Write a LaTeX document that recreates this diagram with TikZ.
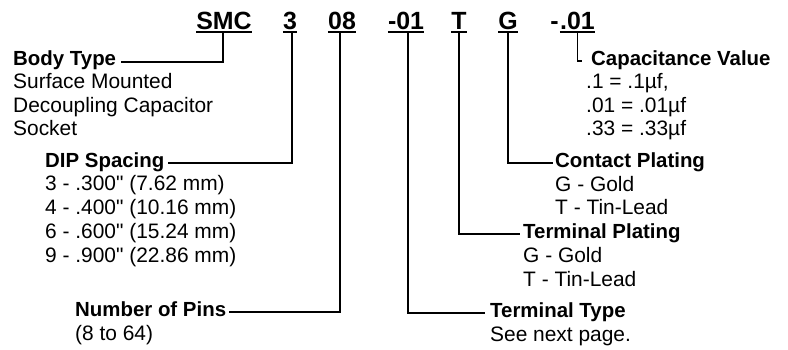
\documentclass[tikz,border=0pt]{standalone}
\usepackage{fontspec}
\setmainfont{Liberation Sans}[Ligatures=TeXOff]
\begin{document}
\begin{tikzpicture}[x=1bp,y=-1bp,
  txt/.style={anchor=base west,inner sep=0pt,font=\fontsize{21}{24}\selectfont},
  hd/.style={anchor=base west,inner sep=0pt,font=\fontsize{20.5}{24}\selectfont\bfseries},
  code/.style={anchor=base,inner sep=0pt,font=\fontsize{25}{28}\selectfont\bfseries},
  conn/.style={line width=1.4bp},
  uline/.style={line width=1.6bp}]
\useasboundingbox (0,0) rectangle (788,349);

% part-number code
\node[code] (smc) at (224,29) {SMC};
\node[code] (dip) at (290,29) {3};
\node[code] (pins) at (342,29) {08};
\node[code] (tt) at (406,29) {-01};
\node[code] (tp) at (459,29) {T};
\node[code] (cp) at (508,29) {G};
\node[code,anchor=base east] (cv) at (595,29) {.01};
\node[code,anchor=base east] (cvdash) at ([xshift=-1bp]cv.base west) {-};
\foreach \n in {smc,dip,pins,tt,tp,cp,cv}
  \draw[uline] ([yshift=-3bp]\n.base west) -- ([yshift=-3bp]\n.base east);

% Body Type
\node[hd] (bt) at (13,65) {Body Type};
\node[txt] (bt1) at (13,88) {Surface Mounted};
\node[txt] (bt2) at (13,112) {Decoupling Capacitor};
\node[txt] (bt3) at (13,135) {Socket};

% DIP Spacing
\node[hd] (dsp) at (45,167) {DIP Spacing};
\node[txt] (dsp1) at (45,190) {3 - .300" (7.62 mm)};
\node[txt] (dsp2) at (45,214) {4 - .400" (10.16 mm)};
\node[txt] (dsp3) at (45,238) {6 - .600" (15.24 mm)};
\node[txt] (dsp4) at (45,262) {9 - .900" (22.86 mm)};

% Number of Pins
\node[hd] (nop) at (75,316) {Number of Pins};
\node[txt] (nop1) at (75,340) {(8 to 64)};

% Capacitance Value
\node[hd] (cvl) at (591,65) {Capacitance Value};
\node[txt] (cvl1) at (586,88) {.1 = .1µf,};
\node[txt] (cvl2) at (586,112) {.01 = .01µf};
\node[txt] (cvl3) at (586,135) {.33 = .33µf};

% Contact Plating
\node[hd] (cpl) at (555,167) {Contact Plating};
\node[txt] (cpl1) at (555,191) {G - Gold};
\node[txt] (cpl2) at (555,214) {T - Tin-Lead};

% Terminal Plating
\node[hd] (tpl) at (523,238) {Terminal Plating};
\node[txt] (tpl1) at (523,262) {G - Gold};
\node[txt] (tpl2) at (523,286) {T - Tin-Lead};

% Terminal Type
\node[hd] (ttl) at (490,317) {Terminal Type};
\node[txt] (ttl1) at (490,341) {See next page.};

% connectors
\draw[conn] ([xshift=-1bp,yshift=-3bp]smc.base) |- ([xshift=5bp,yshift=3bp]bt.base east);
\draw[conn] ([xshift=2bp,yshift=-3bp]dip.base) |- ([xshift=3bp,yshift=4bp]dsp.base east);
\draw[conn] ([xshift=-2bp,yshift=-3bp]pins.base) |- ([xshift=3bp,yshift=4bp]nop.base east);
\draw[conn] ([xshift=2bp,yshift=-3bp]tt.base) |- ([xshift=-5bp,yshift=4bp]ttl.base west);
\draw[conn] ([yshift=-3bp]tp.base) |- ([xshift=-3bp,yshift=4bp]tpl.base west);
\draw[conn] ([yshift=-3bp]cp.base) |- ([xshift=-2bp,yshift=4bp]cpl.base west);
\draw[conn] ([yshift=-3bp]cv.base) |- ([xshift=-9bp,yshift=4bp]cvl.base west);
\end{tikzpicture}
\end{document}
